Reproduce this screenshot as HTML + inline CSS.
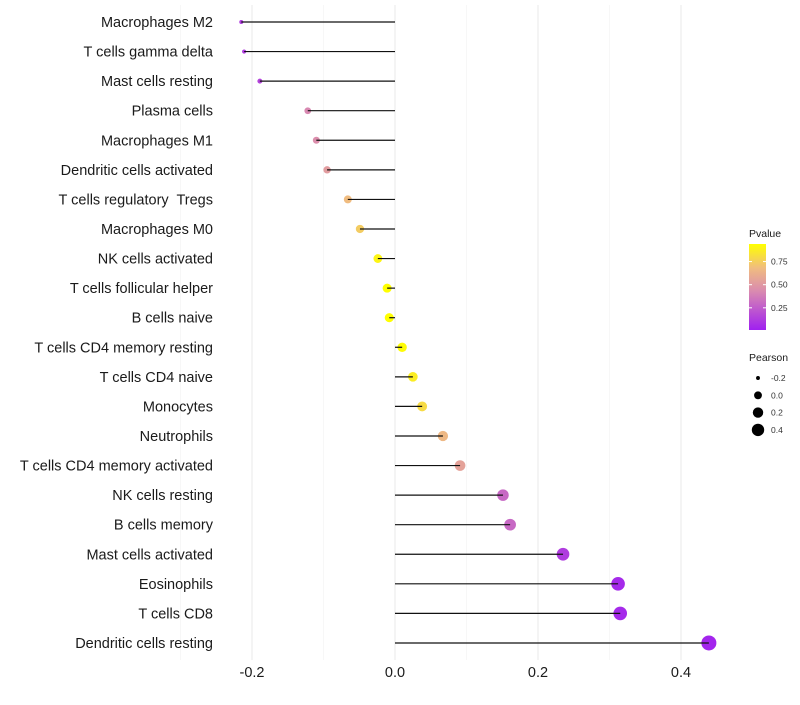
<!DOCTYPE html>
<html><head><meta charset="utf-8"><style>
body{margin:0;background:#fff;font-family:"Liberation Sans",sans-serif}
svg text{font-family:"Liberation Sans",sans-serif;white-space:pre}
</style></head><body>
<svg id="chart" width="800" height="700"></svg>
<script>
const categories=["Macrophages M2","T cells gamma delta","Mast cells resting","Plasma cells","Macrophages M1","Dendritic cells activated","T cells regulatory  Tregs","Macrophages M0","NK cells activated","T cells follicular helper","B cells naive","T cells CD4 memory resting","T cells CD4 naive","Monocytes","Neutrophils","T cells CD4 memory activated","NK cells resting","B cells memory","Mast cells activated","Eosinophils","T cells CD8","Dendritic cells resting"];
const pearson=[-0.215,-0.211,-0.189,-0.122,-0.110,-0.095,-0.066,-0.049,-0.024,-0.011,-0.008,0.010,0.025,0.038,0.067,0.091,0.151,0.161,0.235,0.312,0.315,0.439];
const pvalues=[0.12,0.12,0.15,0.42,0.45,0.52,0.68,0.74,0.9,0.94,0.95,0.93,0.87,0.8,0.66,0.55,0.3,0.3,0.12,0.05,0.05,0.03];
const xTicks=[-0.2,0.0,0.2,0.4];
const xTickLabels=["-0.2","0.0","0.2","0.4"];
const pTicks=[0.25,0.5,0.75];
const sizeLegend=[-0.2,0.0,0.2,0.4];

const NS="http://www.w3.org/2000/svg";
const svg=document.getElementById('chart');
function mk(t,a,p){const e=document.createElementNS(NS,t);for(const k in a)e.setAttribute(k,a[k]);(p||svg).appendChild(e);return e;}
const x=v=>395+v*715;
const y=i=>22+i*29.57;
const rad=v=>Math.sqrt(Math.max(3,4+80*(v+0.215)));
const stops=[[0,[160,32,240]],[0.45,[217,138,176]],[0.72,[240,188,128]],[1,[255,255,0]]];
function col(p){const t=Math.min(1,Math.max(0,(p-0.01)/0.93));for(let i=1;i<stops.length;i++){if(t<=stops[i][0]){const a=stops[i-1],b=stops[i];const f=(t-a[0])/(b[0]-a[0]);const c=a[1].map((v,j)=>Math.round(v+(b[1][j]-v)*f));return `rgb(${c})`;}}return 'rgb(255,255,0)';}
// grid
const grid=mk('g',{});


[-0.3,-0.1,0.1,0.3].forEach(v=>mk('line',{x1:x(v),x2:x(v),y1:5,y2:660,stroke:'#f2f2f2','stroke-width':0.6},grid));
xTicks.forEach(v=>mk('line',{x1:x(v),x2:x(v),y1:5,y2:660,stroke:'#ebebeb','stroke-width':1.1},grid));
// labels
categories.forEach((c,i)=>{const t=mk('text',{x:213,y:y(i)+5,'text-anchor':'end','font-size':14.5,fill:'#1a1a1a'});t.textContent=c;

});
xTicks.forEach((v,i)=>{const t=mk('text',{x:x(v),y:677,'text-anchor':'middle','font-size':14.5,fill:'#1a1a1a'});t.textContent=xTickLabels[i];

});
// marks
categories.forEach((c,i)=>{
const d=mk('circle',{cx:x(pearson[i]),cy:y(i),r:rad(pearson[i]),fill:col(pvalues[i])});


const l=mk('line',{x1:x(0),x2:x(pearson[i]),y1:y(i),y2:y(i),stroke:'#111','stroke-width':1.2});


});
// legend pvalue
const lg=mk('g',{});


const defs=mk('defs',{});
const gr=mk('linearGradient',{id:'pg',x1:0,y1:1,x2:0,y2:0},defs);
stops.forEach(s=>mk('stop',{offset:s[0],'stop-color':`rgb(${s[1]})`},gr));
let t=mk('text',{x:749,y:237,'font-size':10.5,fill:'#1a1a1a'},lg);t.textContent='Pvalue';
mk('rect',{x:749,y:244,width:17,height:86,fill:'url(#pg)'},lg);
const py=p=>330-(p-0.01)/0.93*86;
pTicks.forEach(p=>{mk('line',{x1:749,x2:752,y1:py(p),y2:py(p),stroke:'#fff'},lg);mk('line',{x1:763,x2:766,y1:py(p),y2:py(p),stroke:'#fff'},lg);
const tt=mk('text',{x:771,y:py(p)+3,'font-size':8.5,fill:'#333'},lg);tt.textContent=p.toFixed(2);});
// size legend
const sg=mk('g',{});


t=mk('text',{x:749,y:361,'font-size':10.5,fill:'#1a1a1a'},sg);t.textContent='Pearson';
sizeLegend.forEach((v,i)=>{const cy=378+i*17.3;mk('circle',{cx:758,cy:cy,r:rad(v)*0.85,fill:'#000'},sg);
const tt=mk('text',{x:771,y:cy+3,'font-size':8.5,fill:'#333'},sg);tt.textContent=v.toFixed(1);});
</script>
</body></html>
